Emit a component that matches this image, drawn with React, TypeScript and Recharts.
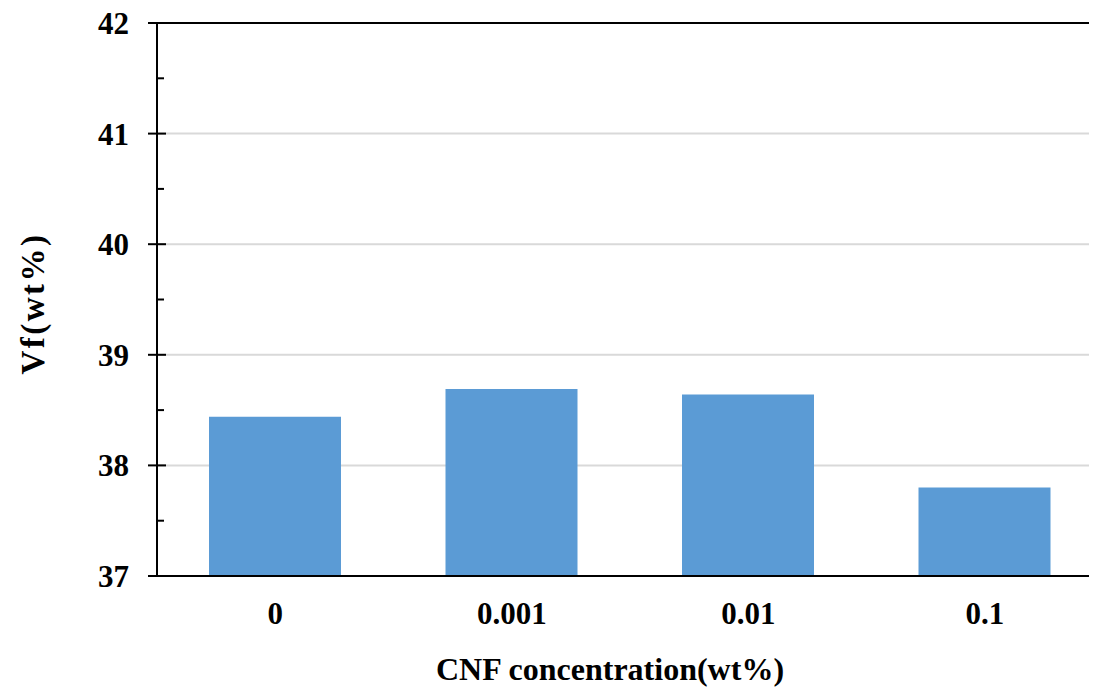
import React from 'react';
import { BarChart, Bar, XAxis, YAxis, CartesianGrid, ReferenceLine, Label } from 'recharts';

const categories = ['0', '0.001', '0.01', '0.1'];
const vfValues = [38.44, 38.69, 38.64, 37.8];
const majorTicks = [37, 38, 39, 40, 41, 42];
const minorTicks = [37.5, 38.5, 39.5, 40.5, 41.5];
const xTitle = 'CNF concentration(wt%)';
const yTitle = 'Vf(wt%)';

const data = categories.map((c, i) => ({ name: c, vf: vfValues[i] }));
const allYTicks = [...majorTicks, ...minorTicks].sort((a, b) => a - b);

const FONT = '"Liberation Serif", "Times New Roman", serif';
const TICK_SIZE = 9;
const TICK_MARGIN = 19;

const YTick = (props: any) => {
  const { x, y, payload } = props;
  const v = payload.value;
  const axisX = x + TICK_SIZE + TICK_MARGIN;
  const isMajor = majorTicks.includes(v);
  if (!isMajor) {
    return <line x1={axisX} x2={axisX + 7} y1={y} y2={y} stroke="#000" strokeWidth={2} />;
  }
  return (
    <g>
      <line x1={axisX - 9} x2={axisX + 9} y1={y} y2={y} stroke="#000" strokeWidth={2} />
      <text
        x={x}
        y={y}
        dy="0.355em"
        textAnchor="end"
        style={{ fill: '#000', fontFamily: FONT, fontWeight: 'bold', fontSize: 31 }}
      >
        {v}
      </text>
    </g>
  );
};

export default function App() {
  return (
    <div style={{ width: 1089, height: 683, overflow: 'hidden' }}>
      <BarChart
        width={1100}
        height={683}
        data={data}
        margin={{ top: 15, right: 5, left: 0, bottom: 0 }}
      >
        <CartesianGrid
          vertical={false}
          horizontalValues={[38, 39, 40, 41]}
          stroke="#d9d9d9"
          strokeWidth={2}
        />
        <XAxis
          dataKey="name"
          height={115}
          axisLine={{ stroke: '#000', strokeWidth: 2 }}
          tickLine={false}
          tickSize={0}
          tickMargin={26}
          tick={{ fill: '#000', fontFamily: FONT, fontWeight: 'bold', fontSize: 31 }}
        >
          <Label
            value={xTitle}
            position="insideBottom"
            offset={11}
            dx={-20}
            style={{ fill: '#000', fontFamily: FONT, fontWeight: 'bold', fontSize: 32 }}
          />
        </XAxis>
        <YAxis
          width={149}
          domain={[37, 42]}
          ticks={allYTicks}
          interval={0}
          axisLine={{ stroke: '#000', strokeWidth: 2 }}
          tickLine={false}
          tickSize={TICK_SIZE}
          tickMargin={TICK_MARGIN}
          tick={<YTick />}
        >
          <Label
            content={(props: any) => {
              const vb = props.viewBox || { x: 0, y: 0, width: 0, height: 0 };
              const cx = vb.x + 25;
              const cy = vb.y + vb.height / 2 + 4;
              return (
                <text
                  x={cx}
                  y={cy}
                  transform={`rotate(-90, ${cx}, ${cy})`}
                  textAnchor="middle"
                  dominantBaseline="central"
                  style={{ fill: '#000', fontFamily: FONT, fontWeight: 'bold', fontSize: 33, letterSpacing: 2.5 }}
                >
                  {yTitle}
                </text>
              );
            }}
          />
        </YAxis>
        <ReferenceLine y={42} stroke="#000" strokeWidth={2} />
        <Bar dataKey="vf" fill="#5b9bd5" barSize={132} isAnimationActive={false} />
      </BarChart>
    </div>
  );
}
